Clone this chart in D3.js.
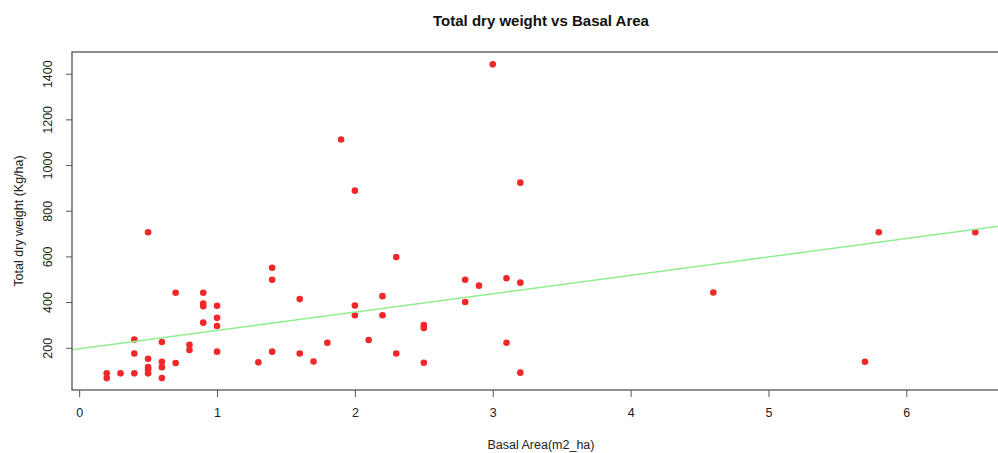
<!DOCTYPE html>
<html>
<head>
<meta charset="utf-8">
<script src="https://cdn.jsdelivr.net/npm/d3@7"></script>
<style>
  body { margin: 0; background: #ffffff; }
  svg { display: block; font-family: "Liberation Sans", Arial, Helvetica, sans-serif; }
</style>
</head>
<body>
<div id="chart"></div>
<script>
// basal area (m2/ha) for each plot
var basalArea = [
  0.2, 0.2, 0.3, 0.4, 0.4, 0.4, 0.5, 0.5, 0.5, 0.5, 0.5,
  0.6, 0.6, 0.6, 0.6, 0.7, 0.7, 0.8, 0.8, 0.9, 0.9, 0.9, 0.9,
  1.0, 1.0, 1.0, 1.0, 1.3, 1.4, 1.4, 1.4, 1.6, 1.6, 1.7, 1.8,
  1.9, 2.0, 2.0, 2.0, 2.1, 2.2, 2.2, 2.3, 2.3, 2.5, 2.5, 2.5,
  2.8, 2.8, 2.9, 3.0, 3.1, 3.1, 3.2, 3.2, 3.2, 4.6, 5.7, 5.8, 6.5
];

// total dry weight (kg/ha), same order as basalArea
var dryWeight = [
  88, 67, 88, 236, 175, 88, 706, 152, 115, 105, 88,
  225, 139, 115, 67, 441, 133, 213, 190, 441, 393, 382, 310,
  384, 331, 295, 183, 136, 550, 498, 183, 413, 175, 140, 222,
  1112, 888, 385, 342, 234, 426, 342, 597, 175, 299, 286, 134,
  498, 400, 472, 1441, 504, 222, 923, 485, 91, 442, 139, 706, 706
];

// fitted line (abline of lm)
var fitIntercept = 195;
var fitSlope = 80.5;

var xTicks = [0, 1, 2, 3, 4, 5, 6];
var yTicks = [200, 400, 600, 800, 1000, 1200, 1400];

var titleText = "Total dry weight vs Basal Area";
var xLabel = "Basal Area(m2_ha)";
var yLabel = "Total dry weight (Kg/ha)";

drawChart();

function drawChart() {
  var w = 998,
      h = 453,
      left = 72,
      right = 1010,
      top = 52,
      bottom = 390;

  var svg = d3.select("#chart").append("svg")
      .attr("width", w)
      .attr("height", h);

  // R style ranges: data range padded by 4%
  var scaleX = d3.scaleLinear()
      .domain([-0.052, 6.752])
      .range([left, right]);

  var scaleY = d3.scaleLinear()
      .domain([15, 1495])
      .range([bottom, top]);

  svg.append("defs").append("clipPath")
      .attr("id", "plotclip")
      .append("rect")
      .attr("x", left)
      .attr("y", top)
      .attr("width", right - left)
      .attr("height", bottom - top);

  // points
  svg.append("g")
      .selectAll("circle")
      .data(basalArea)
      .enter()
      .append("circle")
      .attr("cx", function(d) { return scaleX(d) })
      .attr("cy", function(d, i) { return scaleY(dryWeight[i]) })
      .attr("r", 3.3)
      .style("fill", "#f0282a");

  // regression line
  var x0 = scaleX.domain()[0], x1 = scaleX.domain()[1];
  svg.append("line")
      .attr("clip-path", "url(#plotclip)")
      .attr("x1", scaleX(x0))
      .attr("y1", scaleY(fitIntercept + fitSlope * x0))
      .attr("x2", scaleX(x1))
      .attr("y2", scaleY(fitIntercept + fitSlope * x1))
      .style("stroke", "#90ee90")
      .style("stroke-width", 1.5);

  // box round the plot
  svg.append("rect")
      .attr("x", left)
      .attr("y", top)
      .attr("width", right - left)
      .attr("height", bottom - top)
      .style("fill", "none")
      .style("stroke", "#555555")
      .style("stroke-width", 1.3);

  // x axis
  var xAxis = svg.append("g")
      .attr("transform", "translate(0," + bottom + ")")
      .call(d3.axisBottom(scaleX)
        .tickValues(xTicks)
        .tickFormat(d3.format("d"))
        .tickSize(7)
        .tickPadding(11));

  xAxis.select(".domain").remove();
  xAxis.selectAll("line").style("stroke", "#555555");
  xAxis.selectAll("text")
      .style("font-size", "12.5px")
      .style("fill", "#222222");

  // y axis, labels turned like R's default
  var yAxis = svg.append("g")
      .attr("transform", "translate(" + left + ",0)")
      .call(d3.axisLeft(scaleY)
        .tickValues(yTicks)
        .tickFormat(d3.format("d"))
        .tickSize(6));

  yAxis.select(".domain").remove();
  yAxis.selectAll("line").style("stroke", "#555555");
  yAxis.selectAll("text")
      .attr("x", null)
      .attr("dy", null)
      .attr("transform", "translate(-20,0) rotate(-90)")
      .style("text-anchor", "middle")
      .style("font-size", "12.5px")
      .style("fill", "#222222");

  // title and axis labels
  svg.append("text")
      .text(titleText)
      .attr("x", (left + right) / 2)
      .attr("y", 26)
      .style("text-anchor", "middle")
      .style("font-weight", "bold")
      .style("font-size", "15px")
      .style("fill", "#111111");

  svg.append("text")
      .text(xLabel)
      .attr("x", (left + right) / 2)
      .attr("y", 449)
      .style("text-anchor", "middle")
      .style("font-size", "12.5px")
      .style("fill", "#222222");

  svg.append("text")
      .text(yLabel)
      .attr("transform", "translate(23," + (top + bottom) / 2 + ") rotate(-90)")
      .style("text-anchor", "middle")
      .style("font-size", "12.5px")
      .style("fill", "#222222");
}
</script>
</body>
</html>
